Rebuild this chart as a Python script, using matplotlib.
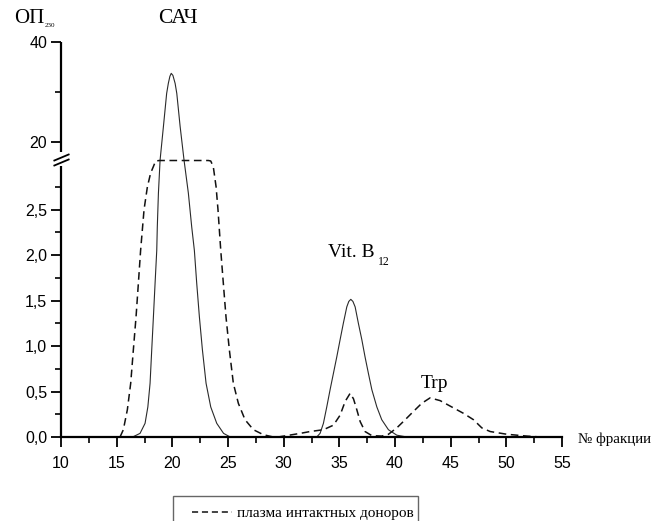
import numpy as np
import matplotlib
matplotlib.use("Agg")
import matplotlib.pyplot as plt
from matplotlib.path import Path
from matplotlib.patches import Rectangle
from matplotlib.lines import Line2D
from matplotlib.ticker import FixedLocator, FixedFormatter

plt.rcParams['font.family'] = ['Liberation Sans', 'DejaVu Sans']

# solid curve (sample)
solid_x = [15.0, 16.0, 16.5, 17.1, 17.55, 17.8, 18.0, 18.15, 18.3, 18.45,
           18.6, 18.65, 18.75, 18.9, 19.2, 19.49, 19.64, 19.78, 19.9, 20.05,
           20.25, 20.4, 20.7, 21.05, 21.44, 21.74, 21.98, 22.19, 22.43, 22.7,
           23.03, 23.45, 23.99, 24.6, 25.2, 26.0, 32.97, 33.27, 33.57, 33.87,
           34.17, 34.47, 34.77, 35.07, 35.36, 35.67, 35.85, 36.03, 36.22, 36.42,
           36.71, 37.02, 37.31, 37.61, 37.92, 38.37, 38.81, 39.41, 40.16, 41.06]
solid_y = [0.0, 0.0, 0.004, 0.04, 0.15, 0.33, 0.59, 0.96, 1.32, 1.69,
           2.05, 2.31, 2.68, 16.5, 23.2, 29.8, 31.8, 33.2, 33.8, 33.4,
           31.8, 29.8, 23.2, 16.5, 2.68, 2.31, 2.05, 1.69, 1.32, 0.96,
           0.59, 0.33, 0.15, 0.04, 0.0, 0.0, 0.0, 0.04, 0.15, 0.33,
           0.52, 0.70, 0.88, 1.07, 1.25, 1.43, 1.49, 1.513, 1.49, 1.43,
           1.25, 1.07, 0.88, 0.70, 0.52, 0.33, 0.19, 0.08, 0.02, 0.0]

# dashed curve: плазма интактных доноров
dash_x = [15.3, 15.6, 15.96, 16.26, 16.5, 16.74, 16.95, 17.15, 17.46, 17.76,
          18.05, 18.29, 18.5, 18.83, 23.24, 23.45, 23.68, 23.93, 24.1, 24.35,
          24.58, 24.82, 25.12, 25.48, 25.93, 26.53, 27.28, 28.18, 29.07,
          29.5, 31.5, 32.37, 33.57, 34.47, 35.07, 35.52, 35.97, 36.27, 36.57,
          36.87, 37.31, 37.92, 38.81, 39.41, 40.16, 40.75, 41.65, 42.4, 43.15,
          44.05, 44.95, 46.15, 47.05, 47.8, 48.55, 50.05, 51.85, 53.1]
dash_y = [0.0, 0.08, 0.30, 0.59, 0.96, 1.32, 1.69, 2.05, 2.5, 2.75,
          2.9, 2.97, 16.3, 16.4, 16.4, 16.3, 2.97, 2.75, 2.5, 2.05,
          1.69, 1.32, 0.96, 0.59, 0.37, 0.19, 0.08, 0.025, 0.0,
          0.0, 0.04, 0.06, 0.08, 0.13, 0.24, 0.39, 0.48, 0.42, 0.30,
          0.17, 0.06, 0.015, 0.01, 0.03, 0.10, 0.17, 0.28, 0.37, 0.43,
          0.40, 0.34, 0.26, 0.19, 0.10, 0.06, 0.03, 0.01, 0.0]

y_major = [0, 0.5, 1.0, 1.5, 2.0, 2.5, 20, 40]
y_major_labels = ['0,0', '0,5', '1,0', '1,5', '2,0', '2,5', '20', '40']
y_minor = [0.25, 0.75, 1.25, 1.75, 2.25, 2.75, 30]
x_major = [10, 15, 20, 25, 30, 35, 40, 45, 50, 55]
x_minor = [12.5, 17.5, 22.5, 27.5, 32.5, 37.5, 42.5, 47.5, 52.5]

# broken y axis: 0..3 linear, then 15.71..40 compressed
BRK_LO, BRK_HI, K, EPS = 3.0, 15.71, 0.05505, 1e-3


def fwd(y):
    y = np.asarray(y, dtype=float)
    return np.where(y <= BRK_LO, y,
                    np.where(y >= BRK_HI, BRK_LO + EPS + (y - BRK_HI) * K,
                             BRK_LO + (y - BRK_LO) / (BRK_HI - BRK_LO) * EPS))


def inv(t):
    t = np.asarray(t, dtype=float)
    return np.where(t <= BRK_LO, t,
                    np.where(t >= BRK_LO + EPS, BRK_HI + (t - BRK_LO - EPS) / K,
                             BRK_LO + (t - BRK_LO) / EPS * (BRK_HI - BRK_LO)))


fig = plt.figure(figsize=(6.6, 5.21), dpi=100)
ax = fig.add_axes([61 / 660, 1 - 437 / 521, 501 / 660, (437 - 42.3) / 521])
ax.set_yscale('function', functions=(fwd, inv))

ax.plot(solid_x, solid_y, color='#2a2a2a', lw=0.8, solid_joinstyle='round')
ax.plot(dash_x, dash_y, color='#111111', lw=1.1, dashes=(5, 3))

ax.set_xlim(10, 55)
ax.set_ylim(0, 40)

for s in ['top', 'right', 'left']:
    ax.spines[s].set_visible(False)
ax.spines['bottom'].set_linewidth(1.6)

# left spine in two pieces with break marks
ytr = ax.get_yaxis_transform()
ax.plot([0, 0], [0, 2.978], transform=ytr, color='k', lw=1.6, clip_on=False,
        solid_capstyle='butt')
ax.plot([0, 0], [18.1, 40], transform=ytr, color='k', lw=1.6, clip_on=False,
        solid_capstyle='butt')
slash = Path([(-1, -0.42), (1, 0.42)], [Path.MOVETO, Path.LINETO])
ax.plot([0, 0], [16.16, 17.16], transform=ytr, ls='none', marker=slash,
        ms=11.5, mec='k', mew=1.3, clip_on=False)

ax.yaxis.set_major_locator(FixedLocator(y_major))
ax.yaxis.set_major_formatter(FixedFormatter(y_major_labels))
ax.yaxis.set_minor_locator(FixedLocator(y_minor))
ax.xaxis.set_major_locator(FixedLocator(x_major))
ax.xaxis.set_minor_locator(FixedLocator(x_minor))

ax.tick_params(axis='both', which='major', direction='out', length=7, width=1.3,
               labelsize=11.5, color='k')
ax.tick_params(axis='both', which='minor', direction='out', length=4, width=1.2,
               color='k')
ax.tick_params(axis='x', which='major', pad=7)
ax.tick_params(axis='y', which='major', pad=3)

serif = ['Liberation Serif', 'DejaVu Serif']
ax.text(20.5, 1.049, 'САЧ', transform=ax.get_xaxis_transform(), ha='center',
        va='baseline', fontsize=15.5, family=serif)
ax.text(34.0, 1.98, 'Vit. B', ha='left', va='baseline', fontsize=14, family=serif)
ax.text(38.45, 1.89, '12', ha='left', va='baseline', fontsize=8.5, family=serif)
ax.text(42.3, 0.54, 'Trp', ha='left', va='baseline', fontsize=14, family=serif)
ax.text(56.4, -0.07, '№ фракции', ha='left', va='baseline', fontsize=10.8,
        family=serif, clip_on=False)

fig.text(14 / 660, 1 - 23 / 521, 'ОП', ha='left', va='baseline', fontsize=15,
         family=serif)
fig.text(45 / 660, 1 - 27 / 521, '230', ha='left', va='baseline', fontsize=5,
         family=serif)

# legend box (cut by the bottom edge)
fig.add_artist(Rectangle((173 / 660, -0.1), (418 - 173) / 660, 0.1 + (521 - 496) / 521,
                         transform=fig.transFigure, fill=False, ec='#666666', lw=1.0))
fig.add_artist(Line2D([192 / 660, 232 / 660], [1 - 512 / 521, 1 - 512 / 521],
                      transform=fig.transFigure, color='#111111', lw=1.1, dashes=(4, 2.5)))
fig.text(237 / 660, 1 - 517 / 521, 'плазма интактных доноров', ha='left',
         va='baseline', fontsize=11, family=serif)

fig.savefig('out.png', dpi=100)
